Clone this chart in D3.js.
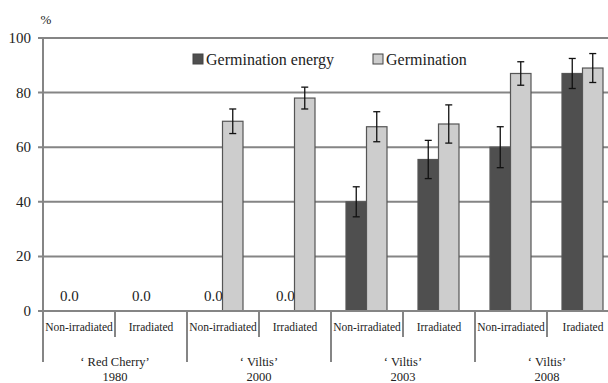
<!DOCTYPE html>
<html>
<head>
<meta charset="utf-8">
<script src="https://cdn.jsdelivr.net/npm/d3@7"></script>
<style>
  body { margin: 0; background: #fff; }
  svg, svg text { font-family: "Liberation Serif", "Times New Roman", serif; }
</style>
</head>
<body>
<div id="chart"></div>
<script>
// chart data
const treatments = ["Non-irradiated", "Irradiated", "Non-irradiated", "Irradiated",
                    "Non-irradiated", "Irradiated", "Non-irradiated", "Iradiated"];
const groupNames = ["\u2018 Red Cherry\u2019", "\u2018 Viltis\u2019", "\u2018 Viltis\u2019", "\u2018 Viltis\u2019"];
const groupYears = ["1980", "2000", "2003", "2008"];
const energy = [0, 0, 0, 0, 40, 55.5, 60, 87];
const energyErr = [0, 0, 0, 0, 5.5, 7, 7.5, 5.5];
const germination = [0, 0, 69.5, 78, 67.5, 68.5, 87, 89];
const germinationErr = [0, 0, 4.5, 4, 5.5, 7, 4.3, 5.3];
const yTicks = [0, 20, 40, 60, 80, 100];
const seriesNames = ["Germination energy", "Germination"];

const width = 608, height = 383;
const colors = ["#4f4f4f", "#cdcdcd"];

const svg = d3.select("#chart").append("svg")
  .attr("width", width)
  .attr("height", height);

const x0 = 43, plotRight = 619;
const idx = d3.range(treatments.length);

const x = d3.scaleBand()
  .domain(idx)
  .range([x0, plotRight])
  .paddingInner(0)
  .paddingOuter(0);

const inner = d3.scaleBand()
  .domain([0, 1])
  .range([15, x.bandwidth() - 16]);

const y = d3.scaleLinear()
  .domain([0, 100])
  .range([311, 38]);

// gridlines
svg.append("g")
  .selectAll("line")
  .data(yTicks)
  .enter().append("line")
  .attr("x1", x0 - 5)
  .attr("x2", width)
  .attr("y1", d => y(d))
  .attr("y2", d => y(d))
  .attr("stroke", "#858585")
  .attr("stroke-width", 2);

// y axis line
svg.append("line")
  .attr("x1", x0).attr("x2", x0)
  .attr("y1", y(100)).attr("y2", 362)
  .attr("stroke", "#858585")
  .attr("stroke-width", 2);

// y tick labels
svg.append("g")
  .selectAll("text")
  .data(yTicks)
  .enter().append("text")
  .attr("x", 31)
  .attr("y", d => y(d) + 5)
  .attr("text-anchor", "end")
  .attr("font-size", 15)
  .attr("fill", "#222")
  .text(d => d);

svg.append("text")
  .attr("x", 46).attr("y", 24)
  .attr("text-anchor", "middle")
  .attr("font-size", 13)
  .attr("fill", "#222")
  .text("%");

// bars
const series = [
  { values: energy, err: energyErr },
  { values: germination, err: germinationErr }
];

series.forEach((s, si) => {
  const g = svg.append("g");
  const data = idx.filter(i => s.values[i] > 0);

  g.selectAll("rect")
    .data(data)
    .enter().append("rect")
    .attr("x", i => x(i) + inner(si))
    .attr("width", inner.bandwidth())
    .attr("y", i => y(s.values[i]))
    .attr("height", i => y(0) - y(s.values[i]))
    .attr("fill", colors[si])
    .attr("stroke", "#555")
    .attr("stroke-width", 1.2);

  // error bars
  const eb = g.selectAll("g.err")
    .data(data.filter(i => s.err[i] > 0))
    .enter().append("g")
    .attr("class", "err")
    .attr("stroke", "#111")
    .attr("stroke-width", 1.3);
  const cx = i => x(i) + inner(si) + inner.bandwidth() / 2;
  eb.append("line")
    .attr("x1", cx).attr("x2", cx)
    .attr("y1", i => y(s.values[i] + s.err[i]))
    .attr("y2", i => y(s.values[i] - s.err[i]));
  eb.append("line")
    .attr("x1", i => cx(i) - 3.5).attr("x2", i => cx(i) + 3.5)
    .attr("y1", i => y(s.values[i] + s.err[i]))
    .attr("y2", i => y(s.values[i] + s.err[i]));
  eb.append("line")
    .attr("x1", i => cx(i) - 3.5).attr("x2", i => cx(i) + 3.5)
    .attr("y1", i => y(s.values[i] - s.err[i]))
    .attr("y2", i => y(s.values[i] - s.err[i]));
});

// "0.0" labels over the empty energy bars
svg.append("g")
  .selectAll("text")
  .data(idx.filter(i => energy[i] === 0))
  .enter().append("text")
  .attr("x", i => x(i) + inner(0) + inner.bandwidth() / 2 + 1)
  .attr("y", y(0) - 10)
  .attr("text-anchor", "middle")
  .attr("font-size", 15)
  .attr("fill", "#222")
  .text(i => energy[i].toFixed(1));

// zero baseline on top of bars
svg.append("line")
  .attr("x1", x0 - 5).attr("x2", width)
  .attr("y1", y(0)).attr("y2", y(0))
  .attr("stroke", "#858585")
  .attr("stroke-width", 2);

// category separators
svg.append("g")
  .selectAll("line")
  .data(idx.slice(1))
  .enter().append("line")
  .attr("x1", i => x(i)).attr("x2", i => x(i))
  .attr("y1", y(0))
  .attr("y2", i => i % 2 === 0 ? 362 : 337)
  .attr("stroke", "#858585")
  .attr("stroke-width", 2);

// treatment labels
svg.append("g")
  .selectAll("text")
  .data(idx)
  .enter().append("text")
  .attr("x", i => x(i) + x.bandwidth() / 2)
  .attr("y", 331)
  .attr("text-anchor", "middle")
  .attr("font-size", 11.5)
  .attr("fill", "#222")
  .text(i => treatments[i]);

// group labels (cultivar name, then year)
const groupX = gi => x(gi * 2) + x.bandwidth();
svg.append("g")
  .selectAll("text")
  .data(groupNames)
  .enter().append("text")
  .attr("x", (d, gi) => groupX(gi))
  .attr("y", 366)
  .attr("text-anchor", "middle")
  .attr("font-size", 12.5)
  .attr("fill", "#222")
  .text(d => d);
svg.append("g")
  .selectAll("text")
  .data(groupYears)
  .enter().append("text")
  .attr("x", (d, gi) => groupX(gi))
  .attr("y", 381)
  .attr("text-anchor", "middle")
  .attr("font-size", 12.5)
  .attr("fill", "#222")
  .text(d => d);

// legend
const legendX = [193, 373];
const legend = svg.append("g")
  .selectAll("g")
  .data(seriesNames)
  .enter().append("g")
  .attr("transform", (d, i) => `translate(${legendX[i]}, 54)`);
legend.append("rect")
  .attr("width", 10).attr("height", 10)
  .attr("fill", (d, i) => colors[i])
  .attr("stroke", "#444")
  .attr("stroke-width", 1);
legend.append("text")
  .attr("x", 13)
  .attr("y", 11)
  .attr("font-size", 16)
  .attr("fill", "#222")
  .text(d => d);
</script>
</body>
</html>
